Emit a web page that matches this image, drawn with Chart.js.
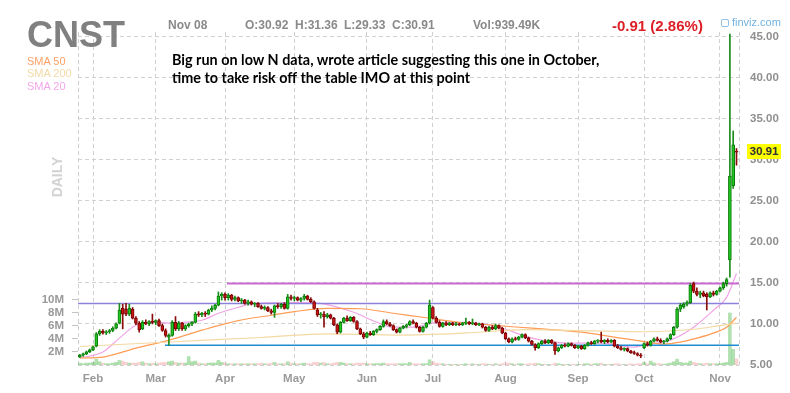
<!DOCTYPE html>
<html>
<head>
<meta charset="utf-8">
<title>CNST daily</title>
<script src="https://cdn.jsdelivr.net/npm/chart.js@4.4.1/dist/chart.umd.min.js"></script>
<style>
  html, body { margin: 0; padding: 0; background: #fff; }
  #wrap { position: relative; width: 790px; height: 393px; overflow: hidden; font-family: "Liberation Sans", Arial, sans-serif; }
  #chart { position: absolute; left: 0; top: 0; }
  .t { position: absolute; white-space: nowrap; line-height: 1; font-weight: bold; }
  .hdr { font-size: 12px; color: #8a8a8a; top: 19px; }
  .sma { font-size: 11px; font-weight: normal; left: 27px; }
  .note { font-family: Lato, "Open Sans", sans-serif; font-size: 14.4px; color: #000; left: 172px; }
</style>
</head>
<body>
<div id="wrap">
  <canvas id="chart" width="790" height="393"></canvas>

  <div class="t" style="left:27px; top:16.5px; font-size:36px; color:#808080;">CNST</div>
  <div class="t hdr" style="left:168px;">Nov 08</div>
  <div class="t hdr" style="left:245px;">O:30.92</div>
  <div class="t hdr" style="left:295px;">H:31.36</div>
  <div class="t hdr" style="left:344px;">L:29.33</div>
  <div class="t hdr" style="left:392px;">C:30.91</div>
  <div class="t hdr" style="left:473px;">Vol:939.49K</div>
  <div class="t" style="left:612px; top:18.3px; font-size:15px; color:#dc1f26;">-0.91 (2.86%)</div>
  <div style="position:absolute; left:721px; top:19px; width:6px; height:6px; border:1px solid #8fc0e8; border-radius:2px;"></div>
  <div class="t" style="left:732px; top:16.7px; font-size:11px; font-weight:normal; color:#72b2e2;">finviz.com</div>

  <div class="t sma" style="top:55.7px; color:#ffa064;">SMA 50</div>
  <div class="t sma" style="top:68.2px; color:#f3d9a6;">SMA 200</div>
  <div class="t sma" style="top:80.7px; color:#f2a6ea;">SMA 20</div>

  <div class="t" style="left:36px; top:170px; width:42px; font-size:14px; color:#d2d2d2; transform:rotate(-90deg); text-align:center;">DAILY</div>

  <div class="t note" style="top:53.3px;">Big run on low N data, wrote article suggesting this one in October,</div>
  <div class="t note" style="top:70.8px;">time to take risk off the table IMO at this point</div>

  <div class="t" style="left:747px; top:143.5px; width:34px; height:15px; line-height:15px; background:#ffff00; font-size:11.5px; color:#333; text-align:center;">30.91</div>
</div>

<script>
// month ticks (index of first trading day of each month)
const monthLabels = ['Feb', 'Mar', 'Apr', 'May', 'Jun', 'Jul', 'Aug', 'Sep', 'Oct', 'Nov'];
const monthStarts = [4, 23, 44, 65, 87, 107, 129, 151, 171, 194];
const priceTicks = [5, 10, 15, 20, 25, 30, 35, 40, 45];
const volumeTicks = [2, 4, 6, 8, 10];

// daily candles: [open, high, low, close]
const candles = [
    // Jan 28 - 31
    [6.00, 6.30, 5.90, 6.20], [6.20, 6.45, 6.05, 6.35], [6.35, 6.70, 6.25, 6.60], [6.60, 6.95, 6.50, 6.85],
    // Feb
    [6.85, 7.30, 6.75, 7.20], [7.30, 8.95, 7.20, 8.80], [8.80, 9.30, 8.60, 9.10], [9.10, 9.30, 8.75, 8.90],
    [8.90, 9.20, 8.70, 9.05], [9.05, 9.35, 8.85, 9.20], [9.20, 9.65, 9.05, 9.50], [9.50, 10.15, 9.40, 10.00],
    [10.10, 12.50, 10.00, 11.70], [11.90, 12.40, 9.40, 11.20], [11.80, 12.50, 11.00, 11.20], [11.20, 12.40, 11.00, 11.90],
    [11.80, 12.00, 10.60, 10.70], [10.70, 10.90, 9.90, 10.10], [10.10, 10.30, 9.00, 9.30], [9.40, 10.40, 9.30, 10.20],
    [10.20, 10.50, 9.90, 10.00], [10.00, 10.40, 9.80, 10.30], [10.30, 11.20, 10.00, 10.20],
    // Mar
    [10.20, 10.50, 9.90, 10.40], [10.40, 10.60, 9.70, 9.80], [9.80, 10.00, 9.10, 9.20], [9.20, 9.40, 8.40, 8.60],
    [8.40, 8.80, 7.40, 8.60], [8.60, 10.40, 8.50, 10.20], [10.20, 10.90, 9.20, 9.40], [9.40, 10.30, 9.20, 10.10],
    [10.10, 10.20, 9.20, 9.40], [9.40, 9.90, 9.20, 9.80], [9.80, 10.10, 9.60, 10.00], [10.00, 10.30, 9.80, 10.20],
    [10.20, 11.40, 10.10, 11.20], [11.20, 11.50, 10.90, 11.10], [11.10, 11.40, 10.90, 11.30], [11.30, 11.50, 10.90, 11.20],
    [11.20, 11.80, 11.10, 11.70], [11.70, 12.20, 11.50, 11.90], [11.90, 12.40, 11.70, 12.30], [12.30, 13.90, 12.20, 13.40],
    [13.40, 13.80, 12.90, 13.60],
    // Apr
    [13.60, 13.80, 12.90, 13.20], [13.20, 13.70, 12.90, 13.50], [13.50, 13.60, 12.80, 13.00], [13.00, 13.40, 12.80, 13.20],
    [13.20, 13.30, 12.70, 12.80], [12.80, 13.10, 12.50, 12.90], [12.90, 13.00, 12.40, 12.50], [12.50, 12.90, 12.30, 12.70],
    [12.70, 12.80, 12.30, 12.40], [12.40, 12.60, 12.10, 12.50], [12.50, 12.60, 12.00, 12.10], [12.10, 12.30, 11.80, 11.90],
    [11.90, 12.20, 11.70, 12.00], [12.00, 12.10, 11.50, 11.60], [11.60, 11.80, 11.20, 11.40], [11.40, 12.30, 10.80, 12.20],
    [12.20, 12.50, 11.90, 12.10], [12.10, 12.50, 11.90, 12.40], [12.40, 12.60, 11.80, 11.90], [11.90, 13.60, 11.80, 13.30],
    [13.30, 13.50, 12.90, 13.10],
    // May
    [13.10, 13.40, 12.80, 13.20], [13.20, 13.30, 12.80, 12.90], [12.90, 13.20, 12.70, 13.10], [13.10, 13.60, 12.90, 13.40],
    [13.40, 13.50, 12.90, 13.00], [13.00, 13.20, 12.60, 12.70], [12.70, 12.80, 11.80, 11.90], [11.70, 11.90, 10.90, 11.10],
    [11.10, 11.40, 10.70, 11.20], [11.20, 11.50, 9.60, 10.90], [10.90, 11.30, 10.70, 11.10], [11.10, 11.20, 10.60, 10.70],
    [10.70, 10.80, 9.80, 9.90], [9.90, 10.00, 8.80, 9.00], [9.00, 10.30, 8.90, 10.20], [10.20, 10.80, 10.10, 10.70],
    [10.70, 11.00, 10.30, 10.40], [10.40, 10.90, 10.30, 10.80], [10.80, 10.90, 10.20, 10.30], [10.30, 10.40, 9.30, 9.40],
    [9.40, 9.50, 8.70, 8.80], [8.80, 9.00, 8.20, 8.40],
    // Jun
    [8.40, 9.00, 8.30, 8.90], [8.90, 9.10, 8.60, 8.70], [8.70, 9.20, 8.60, 9.10], [9.10, 9.40, 8.90, 9.30],
    [9.30, 9.80, 9.20, 9.70], [9.70, 10.50, 9.60, 10.30], [10.30, 10.50, 9.90, 10.00], [10.00, 10.20, 9.70, 9.80],
    [9.80, 9.90, 9.20, 9.30], [9.30, 9.40, 8.90, 9.00], [9.00, 9.60, 8.90, 9.50], [9.50, 9.80, 9.40, 9.70],
    [9.70, 10.00, 9.50, 9.90], [9.90, 10.40, 9.80, 10.30], [10.30, 10.50, 10.00, 10.10], [10.10, 10.20, 9.50, 9.60],
    [9.60, 9.70, 9.00, 9.10], [9.10, 9.70, 9.00, 9.60], [9.60, 10.20, 9.50, 10.10], [10.10, 12.90, 10.00, 12.30],
    // Jul
    [12.00, 12.10, 10.60, 10.70], [10.70, 10.90, 10.10, 10.20], [10.20, 10.40, 9.60, 9.70], [9.70, 10.20, 9.60, 10.10],
    [10.10, 10.30, 9.80, 9.90], [9.90, 10.20, 9.80, 10.10], [10.10, 10.20, 9.80, 9.90], [9.90, 10.20, 9.80, 10.00],
    [10.00, 10.10, 9.80, 9.90], [9.90, 10.20, 9.80, 10.10], [10.10, 10.70, 9.90, 10.20], [10.20, 10.30, 9.90, 10.00],
    [10.00, 10.60, 9.90, 10.10], [10.10, 10.20, 9.80, 9.90], [9.90, 10.10, 9.80, 10.00], [10.00, 10.10, 9.50, 9.60],
    [9.60, 9.70, 9.10, 9.20], [9.20, 9.70, 9.10, 9.60], [9.60, 9.80, 9.30, 9.40], [9.40, 10.00, 9.30, 9.80],
    [9.80, 9.90, 9.40, 9.50], [9.50, 9.60, 8.80, 8.90],
    // Aug
    [8.90, 9.00, 8.10, 8.20], [8.20, 8.30, 7.70, 7.80], [7.80, 8.30, 7.70, 8.20], [8.20, 8.40, 8.00, 8.10],
    [8.10, 8.50, 8.00, 8.40], [8.40, 8.80, 8.30, 8.70], [8.70, 8.80, 8.20, 8.30], [8.30, 8.40, 7.80, 7.90],
    [7.90, 8.00, 7.40, 7.50], [7.50, 7.60, 6.80, 7.10], [7.10, 7.70, 7.00, 7.60], [7.60, 8.00, 7.50, 7.90],
    [7.90, 8.10, 7.60, 7.70], [7.70, 8.10, 7.60, 8.00], [8.00, 8.10, 7.60, 7.70], [7.70, 7.80, 6.30, 6.70],
    [6.70, 7.20, 6.60, 7.10], [7.10, 7.50, 7.00, 7.40], [7.40, 7.60, 7.20, 7.30], [7.30, 7.70, 7.20, 7.60],
    [7.60, 7.70, 7.30, 7.40], [7.40, 7.50, 7.00, 7.10],
    // Sep
    [7.10, 7.40, 7.00, 7.30], [7.30, 7.40, 6.90, 7.00], [7.00, 7.50, 6.90, 7.40], [7.40, 7.80, 7.30, 7.70],
    [7.70, 7.90, 7.50, 7.60], [7.60, 8.00, 7.50, 7.90], [7.90, 8.10, 7.70, 8.00], [8.00, 9.00, 7.70, 7.80],
    [7.80, 8.10, 7.60, 8.00], [8.00, 8.20, 7.70, 7.80], [7.80, 8.10, 7.70, 8.00], [8.00, 8.10, 7.20, 7.30],
    [7.30, 7.50, 7.00, 7.10], [7.10, 7.30, 6.80, 6.90], [6.90, 7.10, 6.70, 7.00], [7.00, 7.10, 6.60, 6.70],
    [6.70, 6.80, 6.40, 6.50], [6.50, 6.70, 6.30, 6.40], [6.40, 6.50, 6.10, 6.20], [6.20, 6.40, 5.90, 6.10],
    // Oct
    [7.10, 7.70, 7.00, 7.60], [7.60, 7.80, 7.30, 7.40], [7.40, 8.00, 7.30, 7.90], [7.90, 8.30, 7.80, 8.20],
    [8.20, 8.40, 7.90, 8.00], [8.00, 8.20, 7.70, 7.80], [7.80, 8.00, 7.60, 7.90], [7.90, 8.30, 7.80, 8.20],
    [8.20, 8.80, 8.10, 8.70], [8.70, 9.70, 8.60, 9.60], [9.60, 12.00, 9.50, 11.80], [11.80, 12.50, 11.50, 12.30],
    [12.10, 12.60, 11.90, 12.40], [12.40, 12.80, 12.20, 12.60], [12.60, 14.90, 12.50, 14.70], [14.90, 15.10, 13.80, 14.00],
    [14.00, 14.40, 13.40, 13.60], [13.60, 14.00, 13.20, 13.80], [13.80, 14.00, 13.30, 13.40], [13.60, 13.80, 11.70, 13.30],
    [13.30, 13.90, 13.20, 13.80], [13.80, 14.00, 13.40, 13.60], [13.60, 14.10, 13.50, 14.00],
    // Nov 1 - 8
    [14.00, 14.50, 13.90, 14.40], [14.40, 15.10, 14.20, 14.90], [14.90, 15.60, 14.60, 15.40], [17.80, 45.30, 15.70, 28.00],
    [26.80, 33.50, 26.50, 31.82], [30.92, 31.36, 29.33, 30.91]
];

// daily volume, millions
const volumes = [
    0.3, 0.2, 0.3, 0.3,
    0.4, 0.9, 0.5, 0.3, 0.2, 0.2, 0.3, 0.4, 0.7, 0.6, 0.4, 0.3, 0.3, 0.3, 0.4, 0.5, 0.3, 0.2, 0.3,
    0.2, 0.3, 0.4, 0.4, 0.5, 0.6, 0.4, 0.3, 0.3, 0.3, 1.3, 0.5, 0.6, 0.3, 0.2, 0.2, 0.3, 0.3, 0.3, 0.7, 0.4,
    0.3, 0.2, 0.2, 0.2, 0.2, 0.2, 0.2, 0.2, 0.2, 0.2, 0.2, 0.3, 0.2, 0.2, 0.3, 0.4, 0.2, 0.2, 0.2, 0.5, 0.3,
    0.2, 0.2, 0.2, 0.3, 0.2, 0.2, 0.4, 0.4, 0.3, 0.4, 0.2, 0.2, 0.3, 0.4, 0.4, 0.3, 0.2, 0.2, 0.2, 0.3, 0.3, 0.3,
    0.2, 0.2, 0.2, 0.2, 0.2, 0.3, 0.2, 0.2, 0.2, 0.2, 0.2, 0.2, 0.2, 0.4, 0.2, 0.2, 0.2, 0.2, 0.2, 0.8,
    0.5, 0.3, 0.2, 0.2, 0.1, 0.1, 0.1, 0.1, 0.1, 0.1, 0.2, 0.1, 0.2, 0.1, 0.1, 0.2, 0.2, 0.1, 0.1, 0.2, 0.1, 0.2,
    0.3, 0.3, 0.2, 0.1, 0.2, 0.2, 0.1, 0.2, 0.2, 0.3, 0.2, 0.1, 0.1, 0.1, 0.1, 0.3, 0.2, 0.1, 0.1, 0.1, 0.1, 0.1,
    0.1, 0.1, 0.2, 0.2, 0.1, 0.2, 0.2, 0.3, 0.1, 0.1, 0.1, 0.2, 0.2, 0.1, 0.1, 0.1, 0.2, 0.1, 0.2, 0.2,
    0.4, 0.2, 0.6, 0.3, 0.2, 0.2, 0.1, 0.2, 0.3, 0.5, 0.9, 0.4, 0.3, 0.3, 0.6, 0.4, 0.3, 0.2, 0.2, 0.3, 0.2, 0.2, 0.2,
    0.2, 0.3, 0.4, 8.0, 2.4, 0.94
];

// moving averages: [day index, price]
const sma20 = [
    [0, 5.85], [7, 6.58], [12, 8.27], [17, 9.85], [22, 10.21], [27, 10.09], [32, 10.21], [37, 10.45],
    [42, 11.3], [48, 12.03], [53, 12.5], [65, 12.6], [73, 12.5], [76, 12.27], [83, 11.42], [90, 10.2],
    [95, 9.6], [101, 9.6], [107, 10.1], [117, 10.2], [127, 9.6], [137, 8.27], [148, 7.67], [158, 7.67],
    [168, 7.18], [171, 7.42], [179, 8.03], [186, 9.6], [192, 11.67], [196, 13.24], [199, 16.15]
];
const sma50 = [
    [0, 5.85], [7, 5.97], [17, 7.06], [27, 8.03], [37, 9.24], [48, 10.4], [58, 11.06], [65, 11.5],
    [75, 11.9], [85, 11.85], [95, 11.3], [105, 10.75], [115, 10.2], [125, 9.85], [137, 9.48], [152, 9.0],
    [162, 8.39], [172, 7.79], [177, 7.55], [182, 7.79], [187, 8.27], [192, 8.88], [196, 9.6], [199, 10.82]
];
const sma200 = [
    [0, 7.25], [27, 7.8], [55, 8.35], [75, 8.8], [97, 8.65], [117, 8.9], [135, 9.3], [155, 9.15],
    [172, 9.05], [186, 9.35], [194, 9.8], [199, 10.1]
];

// drawn horizontal levels: [start day index, price]
const levelTop = [44.6, 14.92];
const levelMid = [-0.55, 12.5];
const levelLow = [25.8, 7.42];

const X_MIN = -0.55;
const X_MAX = 199.76;

const isUp = candles.map(c => c[3] >= c[0]);
const axisFont = { family: '"Liberation Sans", Arial, sans-serif', size: 11.5, weight: 'bold' };
const gridGray = '#d0d0d0';

function smaDataset(points, color) {
    return {
        type: 'line',
        data: points.map(p => ({ x: p[0], y: p[1] })),
        yAxisID: 'yP',
        borderColor: color,
        borderWidth: 1.2,
        pointRadius: 0,
        cubicInterpolationMode: 'monotone',
        order: 6
    };
}

function levelDataset(level, color, width) {
    return {
        type: 'line',
        data: [{ x: level[0], y: level[1] }, { x: X_MAX, y: level[1] }],
        yAxisID: 'yP',
        borderColor: color,
        borderWidth: width,
        pointRadius: 0,
        order: 5
    };
}

const ctx = document.getElementById('chart').getContext('2d');

new Chart(ctx, {
    type: 'bar',
    data: {
        datasets: [
            {
                data: volumes.map((v, i) => ({ x: i, y: v })),
                yAxisID: 'yV',
                backgroundColor: isUp.map(u => u ? 'rgba(40,170,40,0.36)' : 'rgba(230,90,90,0.26)'),
                barThickness: 3,
                grouped: false,
                order: 10
            },
            smaDataset(sma200, '#f4d8a2'),
            smaDataset(sma50, '#ff9c55'),
            smaDataset(sma20, '#f0a4e6'),
            levelDataset(levelMid, '#8c82dc', 1.5),
            levelDataset(levelTop, '#c86ad0', 2),
            levelDataset(levelLow, '#1f8cd2', 1.5),
            {
                data: candles.map((c, i) => ({ x: i, y: [c[2], c[1]] })),
                yAxisID: 'yP',
                backgroundColor: isUp.map(u => u ? '#1a8c1a' : '#8c0c0c'),
                barThickness: 1,
                grouped: false,
                order: 2
            },
            {
                data: candles.map((c, i) => ({ x: i, y: [Math.min(c[0], c[3]), Math.max(c[0], c[3])] })),
                yAxisID: 'yP',
                backgroundColor: isUp.map(u => u ? '#22c422' : '#c81616'),
                borderColor: isUp.map(u => u ? '#0b7a0b' : '#780000'),
                borderWidth: 1,
                borderSkipped: false,
                barThickness: 3,
                minBarLength: 1,
                grouped: false,
                order: 1
            }
        ]
    },
    options: {
        responsive: false,
        animation: false,
        devicePixelRatio: 1,
        layout: { padding: { top: 32, left: 0, right: 0, bottom: 0 } },
        plugins: {
            legend: { display: false },
            tooltip: { enabled: false }
        },
        scales: {
            x: {
                type: 'linear',
                min: X_MIN,
                max: X_MAX,
                offset: false,
                afterBuildTicks: s => {
                    s.ticks = [{ value: X_MIN }].concat(monthStarts.map(v => ({ value: v })), [{ value: X_MAX }]);
                },
                afterFit: s => { s.height = 28; },
                ticks: {
                    autoSkip: false,
                    maxRotation: 0,
                    padding: 7,
                    color: '#9a9a9a',
                    font: axisFont,
                    callback: v => {
                        const k = monthStarts.indexOf(v);
                        return k >= 0 ? monthLabels[k] : '';
                    }
                },
                grid: { color: gridGray, drawTicks: false, offset: false },
                border: { display: false, dash: [4, 3] }
            },
            yP: {
                position: 'right',
                min: 5,
                max: 45.55,
                afterBuildTicks: s => { s.ticks = priceTicks.map(v => ({ value: v })); },
                afterFit: s => { s.width = 51; },
                ticks: {
                    padding: 11,
                    color: '#8f8f8f',
                    font: axisFont,
                    callback: v => v.toFixed(2)
                },
                grid: { color: gridGray, drawTicks: false },
                border: { display: false, dash: [4, 3] }
            },
            yV: {
                position: 'left',
                min: 0,
                max: 51.2,
                afterBuildTicks: s => { s.ticks = volumeTicks.map(v => ({ value: v })); },
                afterFit: s => { s.width = 78; },
                ticks: {
                    padding: 8,
                    color: '#999',
                    font: axisFont,
                    callback: v => v + 'M'
                },
                grid: { drawOnChartArea: false, drawTicks: true, tickLength: 6, color: '#c4c4c4' },
                border: { display: false }
            }
        }
    }
});
</script>
</body>
</html>
